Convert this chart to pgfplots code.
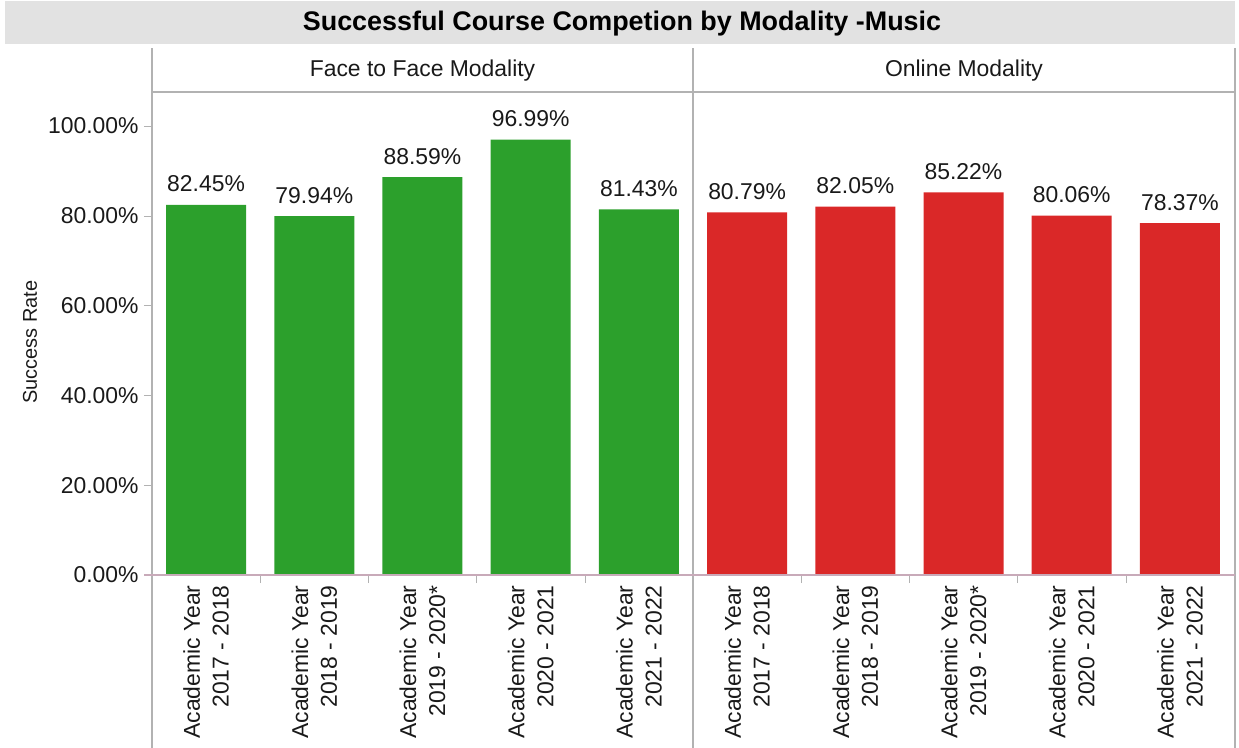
\documentclass[border=0pt]{standalone}
\usepackage{pgfplots}
\pgfplotsset{compat=1.18}
\usepackage{fontspec}
\setmainfont{Liberation Sans}

\definecolor{bargreen}{RGB}{44,160,44}
\definecolor{barred}{RGB}{218,40,40}
\definecolor{framec}{RGB}{178,178,178}
\definecolor{axisc}{RGB}{200,170,185}
\definecolor{txt}{RGB}{25,25,25}
\definecolor{titlebg}{RGB}{226,226,226}

\pgfplotsset{
  panel/.style={
    scale only axis, width=270.5bp, height=241.5bp,
    ymin=0, ymax=107.57, xmin=-0.5, xmax=4.5,
    ybar, bar width=40bp,
    axis line style={draw=none},
    /pgf/number format/assume math mode=true,
    xtick=data,
    xticklabels={{Academic Year\\2017 - 2018},{Academic Year\\2018 - 2019},{Academic Year\\2019 - 2020*},{Academic Year\\2020 - 2021},{Academic Year\\2021 - 2022}},
    x tick label style={rotate=90, anchor=east, align=right, inner sep=0pt,
      font=\fontsize{11.5}{14.5}\selectfont, text=txt},
    xticklabel shift=1bp,
    x tick style={draw=none},
    extra x ticks={0.5,1.5,2.5,3.5},
    extra x tick labels={},
    extra x tick style={major tick length=4bp, tick align=outside, tick pos=bottom,
      x tick style={draw=framec}},
    tick align=outside,
    major tick length=4bp,
    y tick label style={font=\fontsize{11.5}{14}\selectfont, text=txt, inner sep=0pt},
    yticklabel shift=2.5bp,
    nodes near coords={\pgfmathprintnumber[fixed,fixed zerofill,precision=2,assume math mode=true]{\pgfplotspointmeta}\%},
    every node near coord/.append style={font=\fontsize{11.5}{14}\selectfont, text=txt, anchor=base, inner sep=0pt, yshift=6.5bp},
    clip=false,
  }
}

\begin{document}
\begin{tikzpicture}
\useasboundingbox (0,0) rectangle (619.5bp,-374bp);
% title bar
\fill[titlebg] (2.5bp,-0.5bp) rectangle (617.5bp,-22bp);
\node[font=\fontsize{13.5}{16}\selectfont\bfseries, text=black] at (311bp,-12bp) {Successful Course Competion by Modality -Music};

\begin{axis}[panel, at={(76bp,-287.5bp)}, anchor=south west,
  ytick={0,20,40,60,80,100},
  yticklabel={\pgfmathprintnumber[fixed,fixed zerofill,precision=2]{\tick}\%},
  ytick pos=left, y tick style={draw=framec}]
\addplot[fill=bargreen, draw=none] coordinates {(0,82.45) (1,79.94) (2,88.59) (3,96.99) (4,81.43)};
\end{axis}

\begin{axis}[panel, at={(346.5bp,-287.5bp)}, anchor=south west, ytick=\empty]
\addplot[fill=barred, draw=none] coordinates {(0,80.79) (1,82.05) (2,85.22) (3,80.06) (4,78.37)};
\end{axis}

% frame lines
\draw[framec, line width=0.6bp] (76bp,-24bp) -- (76bp,-374bp);
\draw[framec, line width=0.6bp] (346.5bp,-24bp) -- (346.5bp,-374bp);
\draw[framec, line width=0.6bp] (617.5bp,-24bp) -- (617.5bp,-374bp);
\draw[framec, line width=0.6bp] (76bp,-46bp) -- (617.5bp,-46bp);
\draw[axisc, line width=0.6bp] (72bp,-287.5bp) -- (617.5bp,-287.5bp);

\node[font=\fontsize{11.5}{14}\selectfont, text=txt] at (211.25bp,-35.5bp) {Face to Face Modality};
\node[font=\fontsize{11.5}{14}\selectfont, text=txt] at (482bp,-35.5bp) {Online Modality};
\node[font=\fontsize{10}{12}\selectfont, text=txt, rotate=90] at (15bp,-171bp) {Success Rate};
\end{tikzpicture}
\end{document}
